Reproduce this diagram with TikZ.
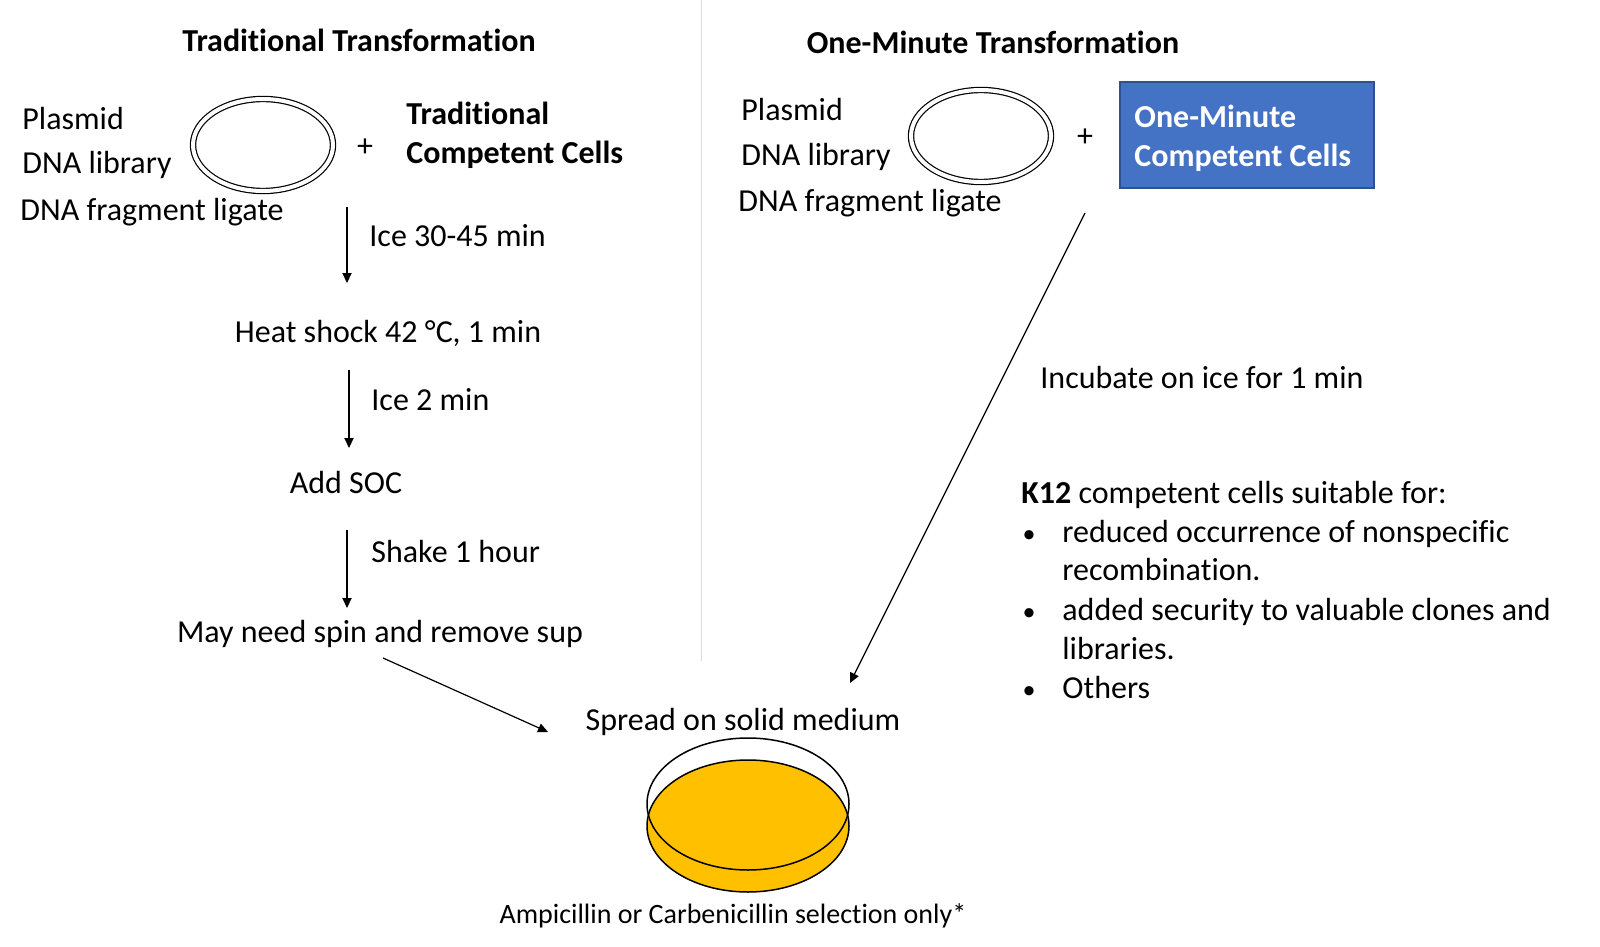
\documentclass[tikz,border=0pt]{standalone}
\usepackage{fontspec}
\setmainfont{Carlito}[Ligatures=NoCommon]
\usetikzlibrary{arrows.meta}
\usetikzlibrary{shapes.geometric}
\definecolor{plate}{HTML}{FFC000}
\definecolor{cellblue}{HTML}{4472C4}
\definecolor{celledge}{HTML}{2F528F}
\definecolor{divider}{HTML}{D9D9D9}

\begin{document}
\begin{tikzpicture}[x=0.5pt,y=-0.5pt,>={Triangle[length=5pt,width=4.6pt]},
		font=\fontsize{16}{19.5}\selectfont,
		every node/.style={inner sep=0pt,text height=1.02em,text depth=0pt},
		flow/.style={->,line width=0.6pt},
		txt/.style={anchor=west},
		head/.style={font=\fontsize{16}{19.5}\selectfont\bfseries},
		dotmark/.style={font=\fontsize{13}{15}\selectfont},
		ring/.style={ellipse,draw,double,double distance=2pt,line width=0.6pt,
			minimum width=70pt,minimum height=46pt,text height={},text depth={}}]
				\useasboundingbox (0,0) rectangle (1600,947);
				
				\draw[divider,line width=0.5pt] (701,0) -- (701,661);
				
				% traditional side
				\node[head] (titleL) at (359,41) {Traditional Transformation};
				\node[txt] (plasL) at (22,119) {Plasmid};
				\node[txt] (libL) at (22,163) {DNA library};
				\node[txt] (ligL) at (20,210) {DNA fragment ligate};
				\node[ring] (ovalL) at (263,145) {};
				\node (plusL) at (365,146) {+};
				\node[txt,head] (tradA) at (406,114) {Traditional};
				\node[txt,head] (tradB) at (406,153) {Competent Cells};
				
				\node[txt] (ice1) at (369,236) {Ice 30-45 min};
				\node (heat) at (388,332) {Heat shock 42 °C, 1 min};
				\node[txt] (ice2) at (371,400) {Ice 2 min};
				\node (soc) at (346,483) {Add SOC};
				\node[txt] (shake) at (371,552) {Shake 1 hour};
				\node (spin) at (380,632) {May need spin and remove sup};
				
				\coordinate (a1s) at (347,207); \coordinate (a1e) at (347,283);
				\coordinate (a2s) at (349,370); \coordinate (a2e) at (349,448);
				\coordinate (a3s) at (347,530); \coordinate (a3e) at (347,608);
				\coordinate (a4s) at (383,658); \coordinate (a4e) at (548,732);
				\draw[flow] (a1s) -- (a1e);
				\draw[flow] (a2s) -- (a2e);
				\draw[flow] (a3s) -- (a3e);
				\draw[flow] (a4s) -- (a4e);
				
				% one-minute side
				\node[head] (titleR) at (993,43) {One-Minute Transformation};
				\node[txt] (plasR) at (741,110) {Plasmid};
				\node[txt] (libR) at (741,155) {DNA library};
				\node[txt] (ligR) at (738,201) {DNA fragment ligate};
				\node[ring] (ovalR) at (981,136) {};
				\node (plusR) at (1085,136) {+};
				\node[draw=celledge,fill=cellblue,line width=0.8pt,minimum width=127pt,
					minimum height=53pt,text height={},text depth={}] (cells) at (1247,135) {};
				\node[anchor=west,align=left,text=white,text height={},text depth={},
					font=\fontsize{16}{19.5}\selectfont\bfseries] (cellsTxt) at (1134,138)
					{One-Minute\\Competent Cells};
				
				\coordinate (a5s) at (1085,213); \coordinate (a5e) at (850,683);
				\draw[flow] (a5s) -- (a5e);
				\node[txt] (incub) at (1040,378) {Incubate on ice for 1 min};
				
				\node[txt] (k12) at (1021,493) {\textbf{K12} competent cells suitable for:};
				\node[dotmark] (dot1) at (1029,532) {\textbullet};
				\node[txt] (use1) at (1062,532) {reduced occurrence of nonspecific};
				\node[txt] (use1b) at (1062,570) {recombination.};
				\node[dotmark] (dot2) at (1029,610) {\textbullet};
				\node[txt] (use2) at (1062,610) {added security to valuable clones and};
				\node[txt] (use2b) at (1062,649) {libraries.};
				\node[dotmark] (dot3) at (1029,688) {\textbullet};
				\node[txt] (use3) at (1062,688) {Others};
				
				% plate
				\node (spread) at (743,720) {Spread on solid medium};
				\node[ellipse,draw,fill=plate,line width=0.75pt,minimum width=101pt,
					minimum height=66pt,text height={},text depth={}] (dish) at (748,826) {};
				\node[ellipse,draw,line width=0.75pt,minimum width=101pt,
					minimum height=66pt,text height={},text depth={}] (lid) at (748,804) {};
				\node[font=\fontsize{14}{17}\selectfont] (ampi) at (733,913)
					{Ampicillin or Carbenicillin selection only*};
\end{tikzpicture}
\end{document}
